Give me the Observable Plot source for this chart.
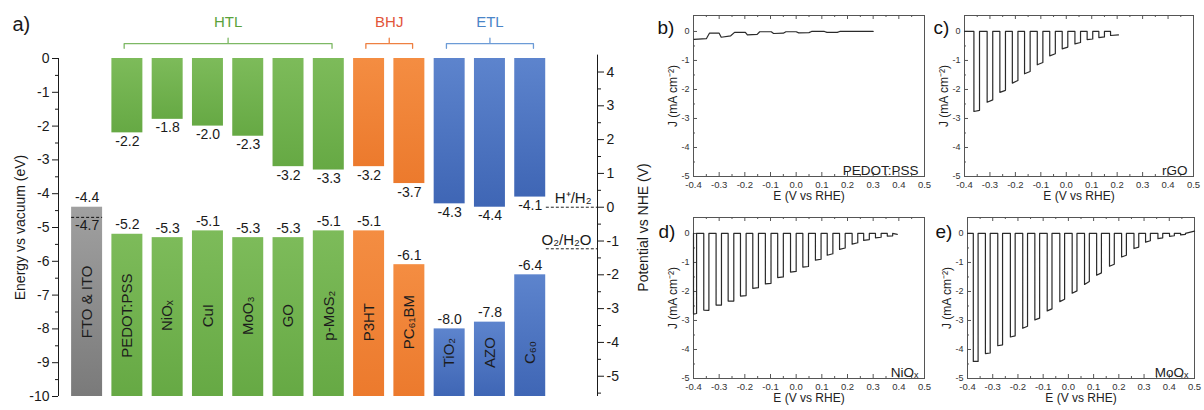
<!DOCTYPE html>
<html>
<head>
<meta charset="utf-8">
<script src="https://cdn.jsdelivr.net/npm/d3@7"></script>
<script src="https://cdn.jsdelivr.net/npm/@observablehq/plot@0.6"></script>
<style>
  body { margin: 0; background: #fff; }
  #wrap { position: relative; width: 1204px; height: 410px; overflow: hidden; background: #fff; }
  #wrap svg { position: absolute; }
</style>
</head>
<body>
<div id="wrap"></div>
<script>
// ---------------- Panel a data ----------------
const materials = ["FTO & ITO", "PEDOT:PSS", "NiOₓ", "CuI", "MoO₃", "GO", "p-MoS₂", "P3HT", "PC₆₁BM", "TiO₂", "AZO", "C₆₀"];
const layerGroup = ["Electrode", "HTL", "HTL", "HTL", "HTL", "HTL", "HTL", "BHJ", "BHJ", "ETL", "ETL", "ETL"];
const lumoEV = [null, -2.2, -1.8, -2.0, -2.3, -3.2, -3.3, -3.2, -3.7, -4.3, -4.4, -4.1];
const homoEV = [-4.4, -5.2, -5.3, -5.1, -5.3, -5.3, -5.1, -5.1, -6.1, -8.0, -7.8, -6.4];
const ftoDashedEV = -4.7;
const energyFloor = -10;
const energyTicks = [0, -1, -2, -3, -4, -5, -6, -7, -8, -9, -10];
const energyMinor = [-0.5, -1.5, -2.5, -3.5, -4.5, -5.5, -6.5, -7.5, -8.5, -9.5];
const nheTicks = [4, 3, 2, 1, 0, -1, -2, -3, -4, -5];
const nheMinor = [3.5, 2.5, 1.5, 0.5, -0.5, -1.5, -2.5, -3.5, -4.5, -5.5];
const nheZeroEV = -4.4;
const redoxLabels = ["H⁺/H₂", "O₂/H₂O"];
const redoxNHE = [0, -1.23];
const shownGroups = ["HTL", "BHJ", "ETL"];

// ---------------- Panels b-e data (chopped J-E curves) ----------------
const eTicks = [-0.4, -0.3, -0.2, -0.1, 0.0, 0.1, 0.2, 0.3, 0.4, 0.5];
const eMinor = [-0.35, -0.25, -0.15, -0.05, 0.05, 0.15, 0.25, 0.35, 0.45];
const jTicks = [0, -1, -2, -3, -4, -5];
const jMinor = [-0.5, -1.5, -2.5, -3.5, -4.5];

// b) PEDOT:PSS
const bE = [-0.398, -0.350, -0.338, -0.300, -0.292, -0.255, -0.240, -0.198, -0.190, -0.152, -0.142, -0.097, -0.088, -0.050, -0.040, 0.000, 0.010, 0.050, 0.060, 0.110, 0.120, 0.160, 0.170, 0.220, 0.300];
const bJ = [-0.27, -0.25, -0.06, -0.06, -0.20, -0.15, -0.03, -0.03, -0.12, -0.10, -0.01, -0.01, -0.07, -0.06, -0.01, -0.01, -0.05, -0.04, 0.00, 0.00, -0.03, -0.03, 0.00, 0.00, 0.00];

// c) rGO
const cOn   = [-0.363, -0.311, -0.261, -0.212, -0.164, -0.114, -0.065, -0.016, 0.034, 0.082, 0.128, 0.174];
const cOff  = [-0.341, -0.289, -0.239, -0.190, -0.142, -0.092, -0.043, 0.006, 0.056, 0.104, 0.150, 0.205];
const cJOn  = [-2.76, -2.44, -2.10, -1.78, -1.46, -1.15, -0.84, -0.60, -0.43, -0.28, -0.21, -0.14];
const cJOff = [-2.72, -2.36, -2.03, -1.69, -1.38, -1.07, -0.77, -0.54, -0.38, -0.26, -0.19, -0.12];

// d) NiOx
const dOn   = [-0.400, -0.360, -0.312, -0.265, -0.217, -0.169, -0.120, -0.072, -0.022, 0.026, 0.075, 0.121, 0.169, 0.218, 0.263, 0.309, 0.355];
const dOff  = [-0.388, -0.340, -0.291, -0.243, -0.195, -0.147, -0.098, -0.050, 0.000, 0.048, 0.097, 0.143, 0.191, 0.240, 0.285, 0.331, 0.376];
const dJOn  = [-2.78, -2.64, -2.47, -2.33, -2.16, -1.89, -1.74, -1.52, -1.33, -1.16, -0.92, -0.75, -0.55, -0.37, -0.24, -0.15, -0.09];
const dJOff = [-2.76, -2.65, -2.47, -2.33, -2.14, -1.87, -1.72, -1.50, -1.31, -1.14, -0.89, -0.70, -0.50, -0.32, -0.21, -0.13, -0.08];

// e) MoOx
const eOn   = [-0.377, -0.329, -0.280, -0.230, -0.181, -0.133, -0.084, -0.034, 0.015, 0.064, 0.112, 0.163, 0.211, 0.260, 0.306, 0.355, 0.401, 0.445];
const eOff  = [-0.358, -0.310, -0.261, -0.211, -0.162, -0.114, -0.065, -0.015, 0.034, 0.083, 0.131, 0.182, 0.230, 0.279, 0.325, 0.374, 0.420, 0.464];
const eJOn  = [-4.41, -4.14, -3.87, -3.57, -3.27, -2.98, -2.67, -2.35, -2.06, -1.76, -1.44, -1.13, -0.81, -0.52, -0.30, -0.18, -0.10, -0.05];
const eJOff = [-4.41, -4.12, -3.84, -3.53, -3.20, -2.92, -2.60, -2.27, -1.98, -1.66, -1.36, -1.06, -0.75, -0.47, -0.25, -0.15, -0.08, -0.03];

// ---------------- Styles ----------------
const fontFamily = '"Liberation Sans", Arial, Helvetica, sans-serif';
const ink = "#1a1a1a";
const gradients = {
  Electrode: ["gGray", "#a0a0a0", "#7a7a7a"],
  HTL: ["gGreen", "#7dbb5a", "#66a944"],
  BHJ: ["gOrange", "#f48d42", "#ec7a2d"],
  ETL: ["gBlue", "#5d84cd", "#3f66b5"]
};
const groupText = {HTL: "#5aa23b", BHJ: "#e2553a", ETL: "#4a85c8"};
const groupBracket = {HTL: "#7db864", BHJ: "#ee8042", ETL: "#6c9bd6"};

const wrap = document.getElementById("wrap");

// ---------------- Panel a ----------------
const rows = materials.map((m, i) => ({m, i, g: layerGroup[i], lumo: lumoEV[i], homo: homoEV[i]}));
const labelY = {};
for (const g of new Set(layerGroup)) {
  const mids = rows.filter(r => r.g === g).map(r => (r.homo + energyFloor) / 2);
  labelY[g] = d3.mean(mids);
}
const xLo = -0.21, xHi = 13.17;
const barInset = 4.65;

const defsMark = () => {
  const defs = d3.create("svg:defs");
  for (const [id, c0, c1] of Object.values(gradients)) {
    const lg = defs.append("linearGradient").attr("id", id)
      .attr("x1", 0).attr("x2", 0).attr("y1", 0).attr("y2", 1);
    lg.append("stop").attr("offset", "0%").attr("stop-color", c0);
    lg.append("stop").attr("offset", "100%").attr("stop-color", c1);
  }
  return defs.node();
};

const brackets = shownGroups.map(g => {
  const idx = rows.filter(r => r.g === g).map(r => r.i);
  const f = d3.min(idx) + 0.42, l = d3.max(idx) + 0.58, mid = (f + l) / 2;
  return {g, mid, pts: [
    {x: f, y: 0.3}, {x: f, y: 0.44}, {x: mid, y: 0.44}, {x: mid, y: 0.6},
    {x: mid, y: 0.44}, {x: l, y: 0.44}, {x: l, y: 0.3}
  ]};
});

const redox = redoxLabels.map((label, k) => ({label, e: nheZeroEV + redoxNHE[k]}));

const plotA = Plot.plot({
  width: 660, height: 410,
  marginLeft: 58, marginRight: 63, marginTop: 58, marginBottom: 14,
  x: {domain: [xLo, xHi], axis: null},
  y: {domain: [energyFloor, 0], axis: null},
  style: {background: "transparent", fontFamily, color: ink, overflow: "visible"},
  marks: [
    defsMark,
    ...Object.keys(gradients).flatMap(g => [
      Plot.rect(rows.filter(r => r.g === g && r.lumo != null), {
        x1: "i", x2: r => r.i + 1, y1: 0, y2: "lumo",
        fill: `url(#${gradients[g][0]})`, insetLeft: barInset, insetRight: barInset
      }),
      Plot.rect(rows.filter(r => r.g === g), {
        x1: "i", x2: r => r.i + 1, y1: "homo", y2: energyFloor,
        fill: `url(#${gradients[g][0]})`, insetLeft: barInset, insetRight: barInset
      })
    ]),
    Plot.ruleY([{i: 0, v: ftoDashedEV}], {
      x1: "i", x2: r => r.i + 1, y: "v", stroke: "#111", strokeWidth: 1,
      strokeDasharray: "3,2", insetLeft: barInset, insetRight: barInset
    }),
    // value labels
    Plot.text(rows.filter(r => r.lumo != null), {
      x: r => r.i + 0.5, y: "lumo", text: r => r.lumo.toFixed(1),
      lineAnchor: "top", dy: 3, fontSize: 14, fill: ink
    }),
    Plot.text(rows, {
      x: r => r.i + 0.5, y: "homo", text: r => r.homo.toFixed(1),
      lineAnchor: "bottom", dy: -5, fontSize: 14, fill: ink
    }),
    Plot.text([{i: 0, v: ftoDashedEV}], {
      x: r => r.i + 0.5, y: "v", text: r => r.v.toFixed(1),
      lineAnchor: "top", dy: 3, fontSize: 14, fill: ink
    }),
    // material names inside bars
    Plot.text(rows, {
      x: r => r.i + 0.5, y: r => labelY[r.g], text: "m",
      rotate: -90, fontSize: 15, fill: "#1c1c1c"
    }),
    // group brackets and names
    ...brackets.map(b => Plot.line(b.pts, {x: "x", y: "y", stroke: groupBracket[b.g], strokeWidth: 1.3})),
    Plot.text(brackets, {x: "mid", y: 1.06, text: "g", fill: b => groupText[b.g], fontSize: 15}),
    // axes
    Plot.ruleX([xLo], {y1: energyFloor, y2: 0, stroke: ink}),
    Plot.ruleX([xHi], {y1: nheZeroEV + 4.5, y2: energyFloor, stroke: ink}),
    Plot.axisY({
      anchor: "left", ticks: energyTicks, tickFormat: d => String(d),
      tickSize: 6, tickPadding: 3, fontSize: 14,
      label: "Energy vs vacuum (eV)", labelAnchor: "center", labelOffset: 43, labelArrow: "none"
    }),
    Plot.axisY({anchor: "left", ticks: energyMinor, tickFormat: () => "", tickSize: 3, label: null}),
    Plot.axisY({
      anchor: "right", ticks: nheTicks.map(v => nheZeroEV + v),
      tickFormat: e => String(Math.round(e - nheZeroEV)),
      tickSize: 6, tickPadding: 3, fontSize: 14,
      label: "Potential vs NHE (V)", labelAnchor: "center", labelOffset: 50, labelArrow: "none"
    }),
    Plot.axisY({anchor: "right", ticks: nheMinor.map(v => nheZeroEV + v), tickFormat: () => "", tickSize: 3, label: null}),
    // redox levels
    Plot.ruleY(redox, {y: "e", x1: materials.length - 0.1, x2: xHi, stroke: "#222", strokeDasharray: "3,2"}),
    Plot.text(redox, {x: xHi, y: "e", text: "label", textAnchor: "end", lineAnchor: "bottom", dx: -6, dy: -4, fontSize: 15, fill: ink}),
    // panel tag
    Plot.text(["a)"], {text: d => d, frameAnchor: "top-left", textAnchor: "start", lineAnchor: "bottom", dx: -46, dy: -28, fontSize: 20, fill: ink})
  ]
});
plotA.style.left = "0px"; plotA.style.top = "0px";
wrap.appendChild(plotA);

// ---------------- Panels b-e ----------------
function pulsed(on, off, jOn, jOff, endLit, tail) {
  const pts = [[eTicks[0], 0]];
  on.forEach((e, k) => {
    pts.push([e, 0], [e, jOn[k]], [off[k], jOff[k]]);
    if (!(endLit && k === on.length - 1)) pts.push([off[k], 0]);
  });
  if (tail) pts.push(tail);
  return pts;
}

function jPanel(o) {
  const iw = o.width - o.mL - o.mR, ih = o.height - o.mT - o.mB;
  const p = Plot.plot({
    width: o.width, height: o.height,
    marginLeft: o.mL, marginRight: o.mR, marginTop: o.mT, marginBottom: o.mB,
    x: {domain: [-0.4, 0.5], axis: null},
    y: {domain: [-5, 0.55], axis: null},
    style: {background: "transparent", fontFamily, color: "#333", overflow: "visible"},
    marks: [
      Plot.frame({stroke: "#555", strokeWidth: 1}),
      Plot.ruleX(eTicks, {insetTop: ih - 4, stroke: "#555"}),
      Plot.ruleX(eTicks, {insetBottom: ih - 4, stroke: "#555"}),
      Plot.ruleX(eMinor, {insetTop: ih - 2, stroke: "#555"}),
      Plot.ruleX(eMinor, {insetBottom: ih - 2, stroke: "#555"}),
      Plot.ruleY(jTicks, {insetRight: iw - 4, stroke: "#555"}),
      Plot.ruleY(jMinor, {insetRight: iw - 2, stroke: "#555"}),
      Plot.axisX({ticks: eTicks, tickSize: 0, tickPadding: 5, tickFormat: d => d.toFixed(1), fontSize: 9.5, label: null}),
      Plot.axisY({ticks: jTicks, tickSize: 0, tickPadding: 4, tickFormat: d => String(d), fontSize: 9, label: null}),
      Plot.text(["E (V vs RHE)"], {text: d => d, frameAnchor: "bottom", textAnchor: "middle", lineAnchor: "middle", dy: 20, fontSize: 12, fill: "#222"}),
      Plot.text(["J (mA cm⁻²)"], {text: d => d, frameAnchor: "left", textAnchor: "middle", lineAnchor: "middle", rotate: -90, dx: -20, fontSize: 12, fill: "#222"}),
      Plot.line(o.points, {x: d => d[0], y: d => d[1], stroke: "#2a2a2a", strokeWidth: 1.2}),
      Plot.text([o.name], {text: d => d, frameAnchor: "bottom-right", textAnchor: "end", lineAnchor: "bottom", dx: -6, dy: -2, fontSize: 13.5, fill: "#222"}),
      Plot.text([o.tag], {text: d => d, frameAnchor: "top-left", textAnchor: "start", lineAnchor: "bottom", dx: o.tagDx, dy: o.tagDy, fontSize: 19, fill: "#111"})
    ]
  });
  p.style.left = o.left + "px"; p.style.top = o.top + "px";
  wrap.appendChild(p);
}

jPanel({tag: "b)", name: "PEDOT:PSS", points: bE.map((e, k) => [e, bJ[k]]),
  left: 640, top: 0, width: 292, height: 205, mL: 53, mR: 8, mT: 15, mB: 29, tagDx: -36, tagDy: 18});
jPanel({tag: "c)", name: "rGO", points: pulsed(cOn, cOff, cJOn, cJOff, true, null),
  left: 932, top: 0, width: 272, height: 205, mL: 32, mR: 11, mT: 15, mB: 29, tagDx: -31, tagDy: 18});
jPanel({tag: "d)", name: "NiOₓ", points: pulsed(dOn, dOff, dJOn, dJOff, false, [0.394, -0.03]),
  left: 640, top: 200, width: 292, height: 210, mL: 53, mR: 8, mT: 17, mB: 32, tagDx: -35, tagDy: 20});
jPanel({tag: "e)", name: "MoOₓ", points: pulsed(eOn, eOff, eJOn, eJOff, false, [0.5, 0.08]),
  left: 932, top: 200, width: 272, height: 210, mL: 35, mR: 10, mT: 17, mB: 32, tagDx: -32, tagDy: 20});
</script>
</body>
</html>
